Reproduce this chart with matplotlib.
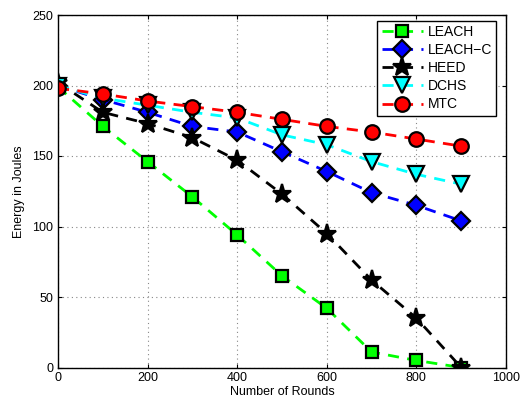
import matplotlib
matplotlib.use("Agg")
import matplotlib.pyplot as plt

rounds = [0, 100, 200, 300, 400, 500, 600, 700, 800, 900]
leach = [199, 171, 146, 121, 94, 65, 42, 11, 5, 0]
leach_c = [200, 190, 181, 171, 167, 153, 139, 124, 115, 104]
heed = [202, 181, 173, 163, 147, 123, 95, 62, 35, 0]
dchs = [200, 191, 186, 181, 177, 165, 158, 146, 137, 130]
mtc = [198, 194, 189, 185, 181, 176, 171, 167, 162, 157]

series = [
    ("LEACH", leach, "#00ff00", "s", 8.5),
    ("LEACH\u2212C", leach_c, "#0000ff", "D", 9),
    ("HEED", heed, "#000000", "*", 14),
    ("DCHS", dchs, "#00ffff", "v", 11),
    ("MTC", mtc, "#ff0000", "o", 10.5),
]

plt.rcParams['font.family'] = ['Liberation Sans', 'DejaVu Sans']
fig = plt.figure(figsize=(5.21, 4.05), dpi=100)
ax = fig.add_axes([58/521, 1-367.5/405, (506-58)/521, (367.5-15)/405])

for name, vals, col, mk, ms in series:
    ax.plot(rounds, vals, linestyle=(0, (4, 3)), color=col, linewidth=2,
            marker=mk, markersize=ms, markerfacecolor=col,
            markeredgecolor='black', markeredgewidth=1.6, label=name)

ax.set_xlim(0, 1000)
ax.set_ylim(0, 250)
ax.set_xticks(range(0, 1001, 200))
ax.set_yticks(range(0, 251, 50))
ax.grid(True, linestyle=(0, (1, 3)), color='#888888', linewidth=0.8)
ax.tick_params(direction='in', labelsize=9, length=3, top=True, right=True)
for s in ax.spines.values():
    s.set_linewidth(1.0)
ax.set_xlabel("Number of Rounds", fontsize=9, labelpad=1)
ax.set_ylabel("Energy in Joules", fontsize=9, labelpad=5)

leg = ax.legend(loc='upper right', fontsize=10, frameon=True, fancybox=False,
                edgecolor='black', framealpha=1, borderpad=0.3,
                labelspacing=0.3, handlelength=3, handletextpad=0.3,
                borderaxespad=0.4, bbox_to_anchor=(0.99, 1.0))
leg.get_frame().set_linewidth(1.0)

fig.savefig("out.png", dpi=100)
